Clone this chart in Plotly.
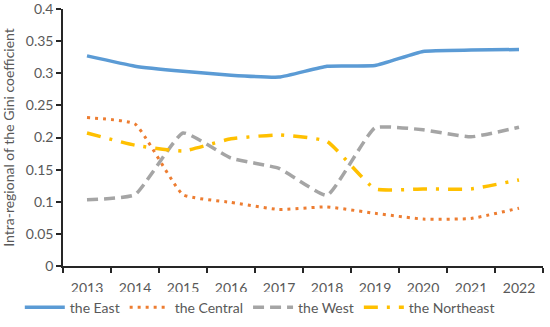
import plotly.graph_objects as go

years = ["2013", "2014", "2015", "2016", "2017", "2018", "2019", "2020", "2021", "2022"]
east = [0.327, 0.311, 0.303, 0.297, 0.294, 0.311, 0.312, 0.334, 0.336, 0.337]
central = [0.231, 0.221, 0.111, 0.099, 0.088, 0.092, 0.082, 0.073, 0.074, 0.090]
west = [0.103, 0.111, 0.207, 0.168, 0.152, 0.110, 0.215, 0.212, 0.201, 0.216]
northeast = [0.207, 0.188, 0.179, 0.198, 0.204, 0.194, 0.120, 0.120, 0.120, 0.134]

fig = go.Figure()
fig.add_trace(go.Scatter(x=years, y=east, name="the East", mode="lines",
                         line=dict(color="#5B9BD5", width=3.5, shape="spline", smoothing=0.4)))
fig.add_trace(go.Scatter(x=years, y=central, name="the Central", mode="lines",
                         line=dict(color="#ED7D31", width=3, dash="3px,5px", shape="spline", smoothing=0.4)))
fig.add_trace(go.Scatter(x=years, y=west, name="the West", mode="lines",
                         line=dict(color="#A5A5A5", width=3.5, dash="11px,6px", shape="spline", smoothing=0.4)))
fig.add_trace(go.Scatter(x=years, y=northeast, name="the Northeast", mode="lines",
                         line=dict(color="#FFC000", width=3.5, dash="14px,9px,3px,9px", shape="spline", smoothing=0.4)))

axis_font = dict(family="Lato, Liberation Sans, sans-serif", size=14, color="#595959")
fig.update_layout(
    width=550, height=327,
    margin=dict(l=63, r=7, t=9, b=61, autoexpand=False),
    paper_bgcolor="white", plot_bgcolor="white",
    font=axis_font,
    showlegend=True,
    legend=dict(orientation="h", x=-0.09, xanchor="left", y=-0.1, yanchor="top",
                font=dict(family="Lato, Liberation Sans, sans-serif", size=14, color="#595959"),
                itemwidth=40, traceorder="normal", tracegroupgap=0),
    xaxis=dict(showline=True, linecolor="#262626", linewidth=1.5, ticks="outside",
               tickson="boundaries", ticklen=5, tickcolor="#262626", tickwidth=1.5,
               showgrid=False, tickfont=axis_font, range=[-0.5, 9.5], ticklabelstandoff=8,
               automargin=False),
    yaxis=dict(showline=True, linecolor="#262626", linewidth=1.5, ticks="outside",
               ticklen=5, tickcolor="#262626", tickwidth=1.5, showgrid=False,
               range=[0, 0.4], dtick=0.05, tickfont=axis_font, zeroline=False,
               automargin=False, ticklabeloverflow="allow",
               title=dict(text="Intra-regional of the Gini coefficient", font=axis_font, standoff=8)),
)

# remove the browser's default 8px body margin so the figure fills the window exactly
fig.write_html("out.html", config={"displayModeBar": False},
               post_script="document.body.style.margin='0';")
